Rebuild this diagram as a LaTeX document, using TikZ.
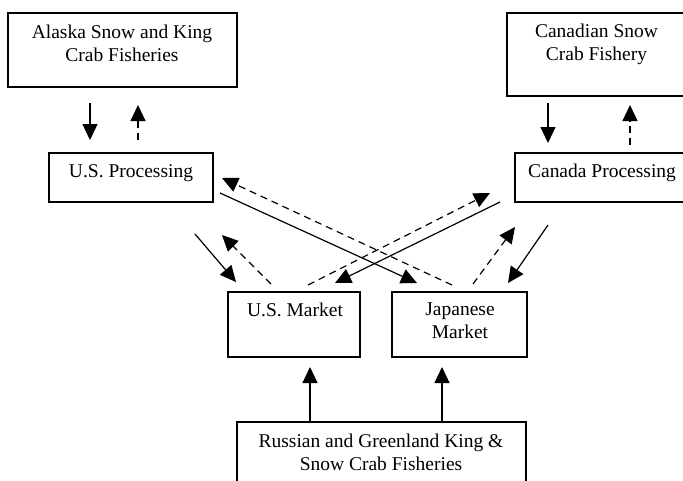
\documentclass[tikz,border=0pt]{standalone}
\usepackage{fontspec}
\setmainfont{Liberation Serif}
\usetikzlibrary{arrows.meta}
\begin{document}
\begin{tikzpicture}[x=1pt,y=-1pt,
  box/.style={draw, line width=1.5pt, inner sep=0pt, outer sep=0pt},
  lbl/.style={anchor=north, inner sep=0pt, align=center, font=\fontsize{19.5}{22.5}\selectfont},
  flow/.style={line width=1.2pt, -{Triangle[length=16pt,width=15pt]}},
  back/.style={flow, dash pattern=on 7pt off 5pt}]
\useasboundingbox (0,0) rectangle (683,480);
\clip (0,0) rectangle (683,480);
% boxes
\node[box, minimum width=229pt, minimum height=74pt] (alaska) at (122.5,50) {};
\node[box, minimum width=179pt, minimum height=83pt] (canfish) at (596.5,54.5) {};
\node[box, minimum width=164pt, minimum height=49pt] (usproc) at (131,177.5) {};
\node[box, minimum width=174pt, minimum height=49pt] (canproc) at (602,177.5) {};
\node[box, minimum width=132pt, minimum height=65pt] (usmkt) at (294,324.5) {};
\node[box, minimum width=135pt, minimum height=65pt] (jpmkt) at (459.5,324.5) {};
\node[box, minimum width=289pt, minimum height=73pt] (russia) at (381.5,458.5) {};
% labels
\node[lbl] (alaskaT) at (122,25) {Alaska Snow and King\\Crab Fisheries};
\node[lbl] (canfishT) at (596.5,24) {Canadian Snow\\Crab Fishery};
\node[lbl] (usprocT) at (131,164) {U.S. Processing};
\node[lbl] (canprocT) at (602,164) {Canada Processing};
\node[lbl] (usmktT) at (295,303) {U.S. Market};
\node[lbl] (jpmktT) at (460,303) {Japanese\\Market};
\node[lbl] (russiaT) at (381,434) {Russian and Greenland King \&\\Snow Crab Fisheries};
% arrow end points
\coordinate (a1s) at (90,103);  \coordinate (a1e) at (90,140);
\coordinate (a2s) at (138,140); \coordinate (a2e) at (138,105);
\coordinate (a3s) at (548,103); \coordinate (a3e) at (548,143);
\coordinate (a4s) at (630,145); \coordinate (a4e) at (630,105);
\coordinate (a5s) at (220,193); \coordinate (a5e) at (417,283);
\coordinate (a6s) at (452,285); \coordinate (a6e) at (222,178);
\coordinate (a7s) at (500,202); \coordinate (a7e) at (335,283);
\coordinate (a8s) at (308,285); \coordinate (a8e) at (490,193);
\coordinate (a9s) at (195,234); \coordinate (a9e) at (236,282);
\coordinate (a10s) at (271,284); \coordinate (a10e) at (222,235);
\coordinate (a11s) at (473,284); \coordinate (a11e) at (515,227);
\coordinate (a12s) at (548,225); \coordinate (a12e) at (508,283);
\coordinate (a13s) at (310,422); \coordinate (a13e) at (310,367);
\coordinate (a14s) at (442,422); \coordinate (a14e) at (442,367);
% arrows
\draw[flow] (a1s) -- (a1e);
\draw[back] (a2s) -- (a2e);
\draw[flow] (a3s) -- (a3e);
\draw[back] (a4s) -- (a4e);
\draw[flow] (a5s) -- (a5e);
\draw[back] (a6s) -- (a6e);
\draw[flow] (a7s) -- (a7e);
\draw[back] (a8s) -- (a8e);
\draw[flow] (a9s) -- (a9e);
\draw[back] (a10s) -- (a10e);
\draw[back] (a11s) -- (a11e);
\draw[flow] (a12s) -- (a12e);
\draw[flow] (a13s) -- (a13e);
\draw[flow] (a14s) -- (a14e);
\end{tikzpicture}
\end{document}
